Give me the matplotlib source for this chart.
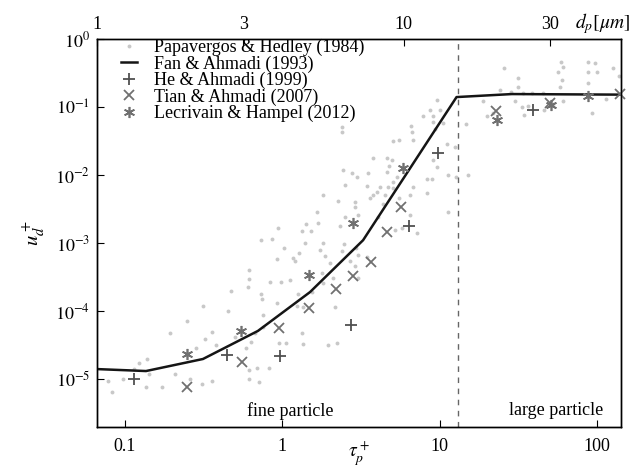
import numpy as np
import matplotlib
matplotlib.use('Agg')
import matplotlib.pyplot as plt

plt.rcParams['font.family'] = 'Liberation Serif'
plt.rcParams['mathtext.fontset'] = 'stix'

# Papavergos & Hedley (1984) experimental cloud
pap_tau = [0.078, 0.083, 0.097, 0.114, 0.123, 0.138, 0.136, 0.142, 0.172, 0.193,
           0.208, 0.248, 0.259, 0.283, 0.313, 0.323, 0.357, 0.357, 0.379, 0.309,
           0.452, 0.472, 0.50, 0.588, 0.605, 0.614, 0.614, 0.614, 0.632, 0.671,
           0.69, 0.711, 0.614, 0.732, 0.732, 0.743, 0.754, 0.754, 0.823, 0.835,
           0.86, 0.925, 0.925, 0.939, 0.953, 0.98, 1.025, 1.055, 1.12, 1.17,
           1.20, 1.24, 1.26, 1.28,
           9.63, 8.69, 10.06, 7.84, 9.08, 9.08, 10.5, 9.35, 2.40, 2.40,
           6.58, 6.68, 6.77, 5.06, 5.52, 11.1, 12.5, 4.63, 4.98, 3.77,
           4.77, 9.08, 9.63, 2.43, 2.77, 2.98, 3.51, 4.63, 5.36, 5.06,
           2.50, 3.46, 4.18, 8.95, 8.32, 11.3, 4.70, 5.06, 4.0, 3.77,
           3.61, 4.50, 6.77, 6.48, 8.32, 1.81, 2.26, 2.90, 2.90, 4.37,
           5.52, 5.21, 5.77, 7.18, 11.3, 1.66, 2.50, 1.42, 1.69, 1.33,
           1.52, 3.03, 15.2, 12.7, 14.7, 4.06, 6.48, 2.33,
           1.39, 1.81, 2.47, 2.40, 2.94, 1.87, 2.01, 2.69, 3.03, 3.46,
           2.90, 1.79, 2.10, 1.81, 2.16, 1.35, 1.33, 1.35, 1.95, 2.23,
           1.55, 1.74, 3.03,
           25.7, 31.5, 56.6, 59.1, 60.9, 87.8, 97.3, 87.8, 100, 127,
           138, 60.0, 58.3, 87.8, 31.5, 24.2, 28.5, 33.9, 38.7, 45.4,
           30.2, 18.9, 60.9, 114, 36.5, 34.4, 33.4, 46.1, 52.6, 20.0,
           21.9, 93.1]
pap_u = [9.4e-6, 6.4e-6, 1.0e-5, 1.4e-5, 1.7e-5, 2.0e-5, 7.6e-6, 1.2e-5, 7.6e-6, 4.75e-5,
         1.2e-5, 7.1e-5, 1.0e-5, 2.9e-5, 1.2e-4, 3.9e-5, 4.9e-5, 9.4e-6, 3.2e-5, 8.4e-6,
         1.0e-4, 2.0e-4, 4.2e-5, 2.9e-5, 2.25e-4, 3.0e-4, 4.0e-4, 1.36e-5, 3.5e-5, 4.75e-5,
         1.45e-5, 9.0e-6, 1.0e-5, 1.1e-3, 1.8e-4, 1.5e-4, 8.7e-5, 5.8e-5, 1.45e-5, 2.7e-4,
         1.15e-3, 1.3e-4, 5.8e-4, 1.66e-3, 3.4e-5, 2.7e-4, 8.4e-4, 3.4e-5, 2.9e-4, 6.0e-4,
         5.4e-4, 1.2e-4, 1.8e-4, 7.1e-4,
         0.127, 0.090, 0.090, 0.074, 0.074, 0.060, 0.058, 0.0475, 0.051, 0.043,
         0.0526, 0.043, 0.0327, 0.0316, 0.0327, 0.0286, 0.0258, 0.0178, 0.0166, 0.0178,
         0.0136, 0.0166, 0.0131, 0.0119, 0.0107, 0.0094, 0.0107, 0.0111, 0.0094, 0.0079,
         0.0071, 0.0069, 0.0067, 0.0087, 0.0087, 0.010, 0.0067, 0.0064, 0.0056, 0.0051,
         0.0046, 0.0051, 0.0067, 0.0051, 0.0054, 0.0051, 0.0042, 0.0040, 0.0034, 0.0038,
         0.0046, 0.00155, 0.00166, 0.0014, 0.0029, 0.0029, 0.0024, 0.0019, 0.0020, 0.0015,
         0.0015, 0.0026, 0.010, 0.0094, 0.056, 0.0024, 0.0026, 0.0018,
         1.0e-3, 1.0e-3, 9.7e-4, 7.6e-4, 8.4e-4, 6.4e-4, 5.1e-4, 5.4e-4, 6.7e-4, 6.2e-4,
         4.6e-4, 3.6e-4, 3.1e-4, 2.6e-4, 1.15e-4, 1.15e-4, 4.75e-5, 3.3e-5, 3.2e-5, 3.4e-5,
         1.9e-4, 7.9e-4, 3.1e-4,
         0.375, 0.267, 0.327, 0.459, 0.388, 0.459, 0.444, 0.327, 0.327, 0.375,
         0.286, 0.249, 0.197, 0.225, 0.197, 0.178, 0.166, 0.161, 0.161, 0.161,
         0.123, 0.123, 0.123, 0.131, 0.1035, 0.0763, 0.100, 0.090, 0.111, 0.0738,
         0.0816, 0.0816]

# Fan & Ahmadi (1993) model curve
fan_tau = [0.0664, 0.136, 0.313, 0.70, 1.5, 3.26, 12.8, 28.8, 142]
fan_u = [1.40e-5, 1.31e-5, 1.97e-5, 5.1e-5, 1.9e-4, 1.1e-3, 0.14, 0.155, 0.152]

# He & Ahmadi (1999)
he_tau = [0.114, 0.445, 0.967, 2.73, 6.38, 9.8, 39.3]
he_u = [1.0e-5, 2.25e-5, 2.2e-5, 6.2e-5, 1.8e-3, 0.021, 0.090]

# Tian & Ahmadi (2007)
tian_tau = [0.248, 0.555, 0.953, 1.48, 2.19, 2.81, 3.66, 4.63, 5.69, 22.9, 50.3, 140]
tian_u = [7.6e-6, 1.78e-5, 5.6e-5, 1.1e-4, 2.1e-4, 3.3e-4, 5.25e-4, 1.45e-3, 3.4e-3,
          0.087, 0.115, 0.155]

# Lecrivain & Hampel (2012)
lec_tau = [0.248, 0.548, 1.48, 2.81, 5.85, 23.2, 51, 87.7]
lec_u = [2.33e-5, 5.1e-5, 3.4e-4, 2.0e-3, 0.0127, 0.064, 0.107, 0.145]

tau_split = 13.0
dp_ticks = [1, 3, 10, 30]

fig = plt.figure(figsize=(6.41, 4.69), dpi=100)
ax = fig.add_axes([97/641, 1 - 427/469, 524/641, 388/469])

ax.plot(pap_tau, pap_u, 'o', color='#c8c8c8', markersize=2.8, markeredgewidth=0,
        label='Papavergos & Hedley (1984)', zorder=1)
ax.plot(fan_tau, fan_u, '-', color='#151515', lw=1.8, label='Fan & Ahmadi (1993)', zorder=3)
ax.plot(he_tau, he_u, '+', color='#505050', markersize=8, markeredgewidth=1.3,
        label='He & Ahmadi (1999)', zorder=4, clip_on=False)
ax.plot(tian_tau, tian_u, 'x', color='#707070', markersize=7, markeredgewidth=1.3,
        label='Tian & Ahmadi (2007)', zorder=4, clip_on=False)
ax.plot(lec_tau, lec_u, marker=(6, 2, 0), linestyle='none', color='#707070', markersize=8,
        markeredgewidth=1.2, label='Lecrivain & Hampel (2012)', zorder=4, clip_on=False)

ax.axvline(tau_split, color='#666666', lw=1, ls=(0, (4, 4)), zorder=2)

ax.set_xscale('log')
ax.set_yscale('log')
ax.set_xlim(0.0664, 142)
ax.set_ylim(1.97e-6, 1)

ax.set_xticks([0.1, 1, 10, 100])
ax.set_xticklabels(['0.1', '1', '10', '100'])
ax.set_yticks([1e-5, 1e-4, 1e-3, 1e-2, 1e-1, 1e0])
ax.set_yticklabels([r'$10^{-5}$', r'$10^{-4}$', r'$10^{-3}$', r'$10^{-2}$',
                    r'$10^{-1}$', r'$10^{0}$'])
ax.minorticks_off()
ax.tick_params(axis='x', direction='in', length=5, labelsize=13, pad=8)
ax.tick_params(axis='y', direction='in', length=5, labelsize=13, pad=5)

ax.set_xlabel(r'$\tau_p^+$', fontsize=14, labelpad=-11)
ax.set_ylabel(r'$u_d^+$', fontsize=15, labelpad=6)

ax.text(1.12, 3.4e-6, 'fine particle', fontsize=13, ha='center', va='center')
ax.text(55, 3.4e-6, 'large particle', fontsize=13, ha='center', va='center')

# particle diameter on the top axis
ax2 = ax.twiny()
ax2.set_xscale('log')
ax2.set_xlim(1, 51)
ax2.set_xticks(dp_ticks)
ax2.set_xticklabels([str(d) for d in dp_ticks])
ax2.minorticks_off()
ax2.tick_params(axis='x', direction='in', length=5, labelsize=13, pad=4)
fig.text(630/641, 1 - 24/469, r'$d_p[\mu m]$', fontsize=14, ha='right', va='center')

for a in (ax, ax2):
    for s in a.spines.values():
        s.set_linewidth(1.0)

ax.legend(loc='upper left', bbox_to_anchor=(0.029, 1.023), frameon=False, fontsize=13,
          handlelength=0.9, handletextpad=0.9, labelspacing=-0.05, borderpad=0.2,
          borderaxespad=0.3, numpoints=1)

fig.savefig('out.png', dpi=100)
